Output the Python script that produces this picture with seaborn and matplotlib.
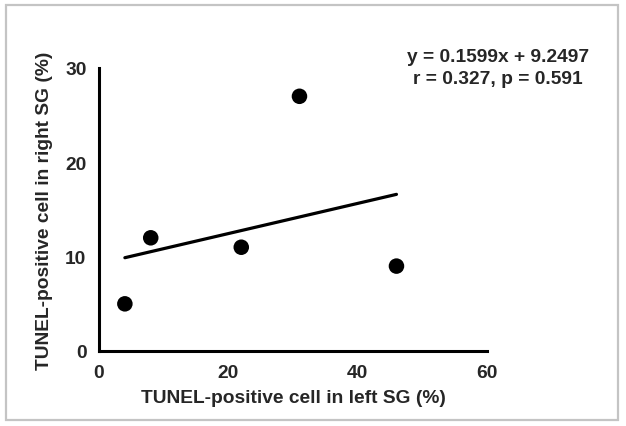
import matplotlib
matplotlib.use("Agg")
import matplotlib.pyplot as plt
import seaborn as sns
import pandas as pd
from matplotlib.patches import Rectangle

left_sg = [4, 8, 22, 31, 46]
right_sg = [5, 12, 11, 27, 9]
x_ticks = [0, 20, 40, 60]
y_ticks = [0, 10, 20, 30]
eq_text = "y = 0.1599x + 9.2497"
stat_text = "r = 0.327, p = 0.591"

df = pd.DataFrame({"left": left_sg, "right": right_sg})

sns.set_style("white")
plt.rcParams['font.family'] = ['Liberation Sans', 'DejaVu Sans']
plt.rcParams['font.weight'] = 'bold'

W, H = 626, 427
fs = 13.8
fig = plt.figure(figsize=(W / 100, H / 100), dpi=100)
ax = fig.add_axes([99 / W, 1 - 352 / H, (487 - 99) / W, (352 - 69) / H])

sns.regplot(data=df, x="left", y="right", ax=ax, ci=None, truncate=True,
            scatter_kws=dict(s=125, color="black", edgecolor="none", alpha=1, zorder=3),
            line_kws=dict(color="black", lw=2.3))

ax.set_xlim(0, 60)
ax.set_ylim(0, 30)
ax.set_xticks(x_ticks)
ax.set_yticks(y_ticks)
ax.tick_params(axis="both", direction="out", length=5, width=2, labelsize=fs, color="black", pad=4)
for lab in ax.get_xticklabels() + ax.get_yticklabels():
    lab.set_fontweight("bold")
for s in ["top", "right"]:
    ax.spines[s].set_visible(False)
for s in ["left", "bottom"]:
    ax.spines[s].set_color("black")
    ax.spines[s].set_linewidth(2.2)
ax.set_xlabel("TUNEL-positive cell in left SG (%)", fontsize=fs, fontweight="bold", labelpad=6)
ax.set_ylabel("TUNEL-positive cell in right SG (%)", fontsize=fs, fontweight="bold", labelpad=9)
ax.patch.set_alpha(0)

fig.text(498 / W, 1 - 57 / H, eq_text, ha="center", va="center", fontsize=fs, fontweight="bold")
fig.text(498 / W, 1 - 79 / H, stat_text, ha="center", va="center", fontsize=fs, fontweight="bold")

fig.patches.append(Rectangle((6 / W, 6 / H), 612 / W, 415.5 / H, transform=fig.transFigure,
                             fill=False, edgecolor="#c4c4c4", lw=1.6))

fig.savefig("out.png", dpi=100)
